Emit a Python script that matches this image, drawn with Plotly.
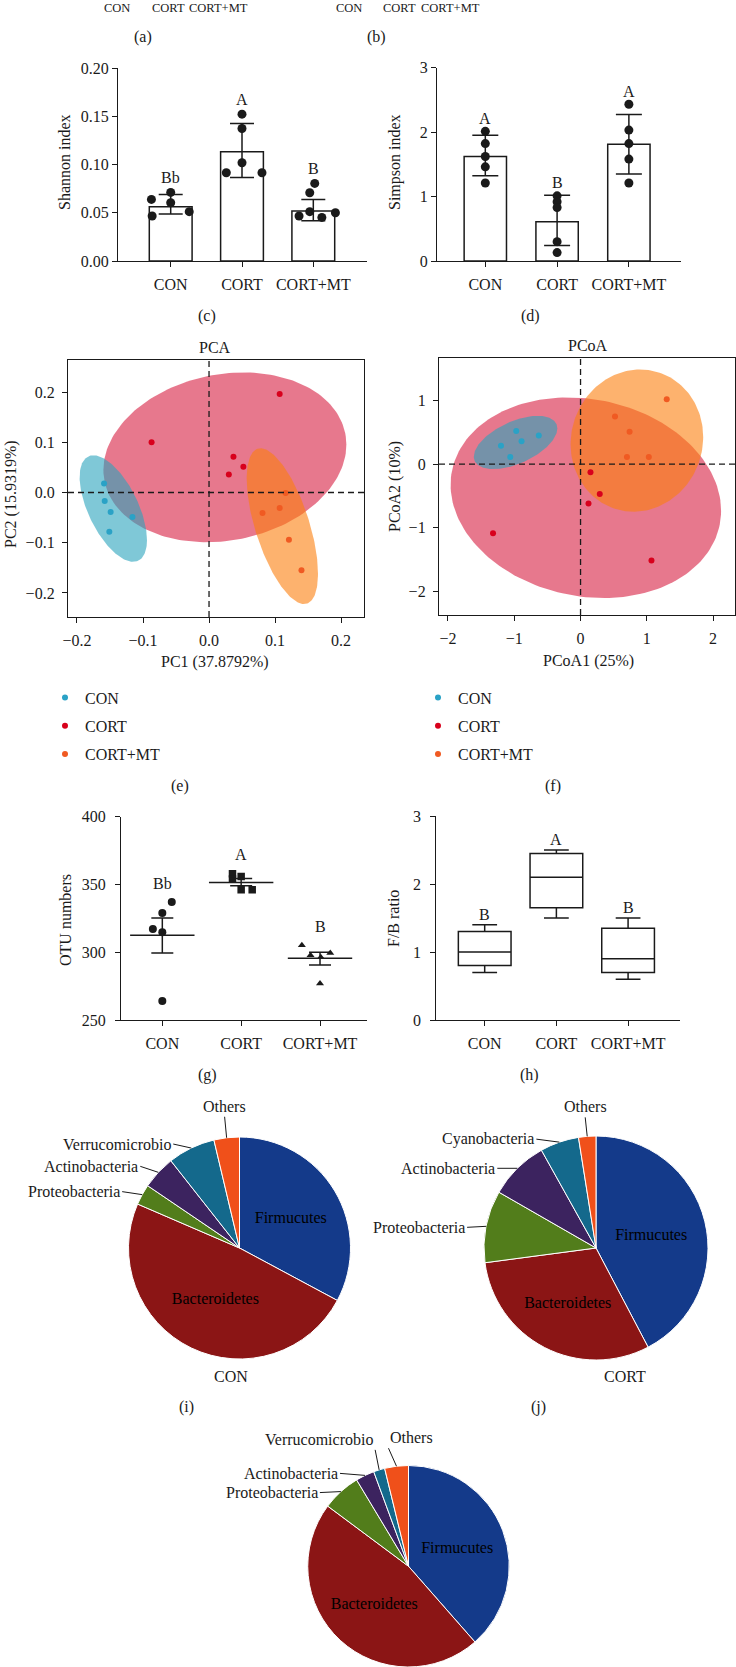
import numpy as np
import plotly.graph_objects as go

W, H = 736, 1667
FONT = "Liberation Serif"
INK = "#1a1a1a"

groups = ["CON", "CORT", "CORT+MT"]
pos = [0, 1, 2]

# (c) Shannon index: bar = mean, whiskers = SD, dots = single animals
shannon_mean = [0.0562, 0.1131, 0.0518]
shannon_hi = [0.0690, 0.1425, 0.0638]
shannon_lo = [0.0487, 0.0866, 0.0417]
shannon_pts = [
    [0.0638, 0.0711, 0.0604, 0.0466, 0.0511],
    [0.1522, 0.1373, 0.1018, 0.0914, 0.0914],
    [0.0804, 0.0707, 0.0511, 0.0466, 0.0452, 0.0500],
]
shannon_jit = [
    [-0.27, 0.0, 0.0, -0.26, 0.26],
    [0.0, 0.0, 0.0, -0.22, 0.28],
    [0.02, -0.05, -0.05, -0.20, 0.12, 0.31],
]
shannon_sig = ["Bb", "A", "B"]

# (d) Simpson index
simpson_mean = [1.62, 0.61, 1.81]
simpson_hi = [1.95, 1.02, 2.27]
simpson_lo = [1.32, 0.24, 1.35]
simpson_pts = [
    [2.01, 1.82, 1.62, 1.46, 1.21],
    [1.01, 0.92, 0.83, 0.30, 0.13],
    [2.43, 2.03, 1.82, 1.58, 1.21],
]
simpson_sig = ["A", "B", "A"]

# (e) PCA scores
pca_x = [
    [-0.159, -0.158, -0.149, -0.116, -0.151],
    [-0.087, 0.107, 0.037, 0.052, 0.030],
    [0.116, 0.107, 0.081, 0.121, 0.140],
]
pca_y = [
    [0.018, -0.017, -0.039, -0.049, -0.078],
    [0.100, 0.196, 0.071, 0.051, 0.036],
    [-0.001, -0.031, -0.041, -0.094, -0.155],
]
# group ellipses: centre, half extent in x and y, correlation
pca_ell_cx = [-0.145, 0.024, 0.111]
pca_ell_cy = [-0.032, 0.070, -0.067]
pca_ell_sx = [0.051, 0.184, 0.054]
pca_ell_sy = [0.106, 0.169, 0.155]
pca_ell_r = [-0.59, 0.15, -0.61]

# (f) PCoA scores
pcoa_x = [
    [-0.97, -0.63, -0.89, -1.20, -1.06],
    [-1.32, 1.07, 0.15, 0.29, 0.12],
    [1.30, 0.52, 0.74, 0.70, 1.03],
]
pcoa_y = [
    [0.52, 0.45, 0.36, 0.29, 0.11],
    [-1.09, -1.52, -0.13, -0.47, -0.62],
    [1.02, 0.75, 0.51, 0.11, 0.11],
]
pcoa_ell_cx = [-0.98, 0.08, 0.85]
pcoa_ell_cy = [0.34, -0.53, 0.37]
pcoa_ell_sx = [0.63, 2.04, 1.00]
pcoa_ell_sy = [0.42, 1.58, 1.12]
pcoa_ell_r = [0.53, -0.13, 0.05]

# (g) OTU numbers: line = mean, whiskers = SEM
otu_pts = [
    [337.0, 329.0, 317.2, 314.7, 264.0],
    [357.9, 355.9, 354.0, 346.1, 346.1],
    [305.2, 297.8, 296.3, 299.5, 277.0],
]
otu_jit = [
    [0.12, 0.0, -0.12, 0.0, 0.0],
    [-0.11, 0.0, -0.11, 0.0, 0.14],
    [-0.23, -0.12, 0.01, 0.13, 0.0],
]
otu_mean = [312.5, 351.5, 295.6]
otu_hi = [325.3, 354.4, 300.0]
otu_lo = [299.5, 349.0, 290.5]
otu_sig = ["Bb", "A", "B"]

# (h) F/B ratio box plot
fb_upper = [1.40, 2.50, 1.50]
fb_q3 = [1.30, 2.45, 1.35]
fb_median = [1.00, 2.10, 0.90]
fb_q1 = [0.80, 1.65, 0.70]
fb_lower = [0.70, 1.50, 0.60]
fb_sig = ["B", "A", "B"]

# (i)-(k) phylum composition (%)
phyla_con = ["Firmucutes", "Bacteroidetes", "Proteobacteria", "Actinobacteria", "Verrucomicrobio", "Others"]
share_con = [32.8, 48.6, 3.0, 4.9, 6.9, 3.7]
phyla_cort = ["Firmucutes", "Bacteroidetes", "Proteobacteria", "Actinobacteria", "Cyanobacteria", "Others"]
share_cort = [42.3, 30.6, 10.4, 8.6, 5.6, 2.5]
phyla_mt = ["Firmucutes", "Bacteroidetes", "Proteobacteria", "Actinobacteria", "Verrucomicrobio", "Others"]
share_mt = [38.5, 46.6, 6.2, 3.0, 1.8, 3.8]

dot_colors = ["#2aa2c6", "#d8001c", "#f05a22"]
ell_colors = ["rgba(42,163,188,0.6)", "rgba(215,30,65,0.6)", "rgba(252,127,13,0.6)"]
pie_colors = ["#143a8a", "#8b1515", "#527d1b", "#3c235f", "#14698c", "#f0501a"]


def xdom(a, b):
    return [a / W, b / W]


def ydom(top, bottom):
    return [max(0, 1 - bottom / H), 1 - top / H]


def xp(v):
    return v / W


def yp(v):
    return 1 - v / H


fig = go.Figure()
ann = []
shapes = []


def text(t, x, y, size=16, **kw):
    d = dict(text=t, x=xp(x), y=yp(y), xref="paper", yref="paper", showarrow=False,
             xanchor="center", yanchor="middle", font=dict(family=FONT, size=size, color=INK))
    d.update(kw)
    ann.append(d)


# ---------- bar + dot panels (c), (d)
def bar_panel(mean, hi, lo, pts, jit, sig, xa, ya, bw, cap, shift):
    fig.add_trace(go.Bar(
        x=pos, y=mean, width=bw, xaxis=xa, yaxis=ya, showlegend=False,
        marker=dict(color="white", line=dict(color=INK, width=1.5)),
        error_y=dict(type="data", symmetric=False,
                     array=[h - m for h, m in zip(hi, mean)],
                     arrayminus=[m - l for m, l in zip(mean, lo)],
                     color=INK, thickness=1.5, width=cap),
    ))
    px_, py_ = [], []
    for i, vals in enumerate(pts):
        for j, v in enumerate(vals):
            px_.append(i + (jit[i][j] if jit else 0.0))
            py_.append(v)
    fig.add_trace(go.Scatter(x=px_, y=py_, mode="markers", xaxis=xa, yaxis=ya, showlegend=False,
                             marker=dict(size=9, color=INK)))
    for i, s in enumerate(sig):
        ann.append(dict(text=s, x=i, y=max(hi[i], max(pts[i])), xref=xa, yref=ya, yshift=shift,
                        yanchor="middle", showarrow=False, font=dict(family=FONT, size=16, color=INK)))


bar_panel(shannon_mean, shannon_hi, shannon_lo, shannon_pts, shannon_jit, shannon_sig, "x", "y", 0.6, 12, 15)
bar_panel(simpson_mean, simpson_hi, simpson_lo, simpson_pts, None, simpson_sig, "x2", "y2", 0.59, 13, 13)


# ---------- ordination panels (e), (f)
def ellipse(cx, cy, sx, sy, rho, color, xa, ya):
    t = np.linspace(0, 2 * np.pi, 181)
    ex = cx + sx * np.cos(t)
    ey = cy + sy * (rho * np.cos(t) + np.sqrt(1 - rho ** 2) * np.sin(t))
    fig.add_trace(go.Scatter(x=ex, y=ey, mode="lines", fill="toself", fillcolor=color,
                             line=dict(width=0, color=color), hoverinfo="skip",
                             showlegend=False, xaxis=xa, yaxis=ya))


def ordination(xs, ys, cx, cy, sx, sy, rr, xa, ya, leg):
    for k in [1, 0, 2]:
        ellipse(cx[k], cy[k], sx[k], sy[k], rr[k], ell_colors[k], xa, ya)
    for k, g in enumerate(groups):
        fig.add_trace(go.Scatter(x=xs[k], y=ys[k], mode="markers", name=g, legend=leg,
                                 legendgroup=leg + g, xaxis=xa, yaxis=ya,
                                 marker=dict(size=6, color=dot_colors[k])))
    dash = dict(color=INK, width=1.3, dash="6px,4px")
    shapes.append(dict(type="line", xref=xa, yref=ya + " domain", x0=0, x1=0, y0=0, y1=1, line=dash))
    shapes.append(dict(type="line", xref=xa + " domain", yref=ya, x0=0, x1=1, y0=0, y1=0, line=dash))


ordination(pca_x, pca_y, pca_ell_cx, pca_ell_cy, pca_ell_sx, pca_ell_sy, pca_ell_r, "x3", "y3", "legend")
ordination(pcoa_x, pcoa_y, pcoa_ell_cx, pcoa_ell_cy, pcoa_ell_sx, pcoa_ell_sy, pcoa_ell_r, "x4", "y4", "legend2")

# ---------- (g) OTU dot plot
symbols = ["circle", "square", "triangle-up"]
sizes = [8, 7.5, 7]
for k in range(3):
    fig.add_trace(go.Scatter(x=[k + d for d in otu_jit[k]], y=otu_pts[k], mode="markers",
                             xaxis="x5", yaxis="y5", showlegend=False,
                             marker=dict(symbol=symbols[k], size=sizes[k], color=INK)))
fig.add_trace(go.Scatter(
    x=pos, y=otu_mean, mode="markers", xaxis="x5", yaxis="y5", showlegend=False,
    marker=dict(symbol="line-ew", size=46, line=dict(color=INK, width=1.5)),
    error_y=dict(type="data", symmetric=False,
                 array=[h - m for h, m in zip(otu_hi, otu_mean)],
                 arrayminus=[m - l for m, l in zip(otu_mean, otu_lo)],
                 color=INK, thickness=1.5, width=11),
))
for i, s in enumerate(otu_sig):
    ann.append(dict(text=s, x=i, y=max(otu_pts[i]), xref="x5", yref="y5", yshift=19, yanchor="middle",
                    showarrow=False, font=dict(family=FONT, size=16, color=INK)))

# ---------- (h) F/B box plot
fig.add_trace(go.Box(x=pos, q1=fb_q1, median=fb_median, q3=fb_q3, lowerfence=fb_lower,
                     upperfence=fb_upper, width=0.735, whiskerwidth=0.47, fillcolor="white",
                     line=dict(color=INK, width=1.5), boxpoints=False, xaxis="x6", yaxis="y6",
                     showlegend=False))
for i, s in enumerate(fb_sig):
    ann.append(dict(text=s, x=i, y=fb_upper[i], xref="x6", yref="y6", yshift=10.5, yanchor="middle",
                    showarrow=False, font=dict(family=FONT, size=16, color=INK)))


# ---------- pies (i), (j), (k)
def pie(labels, values, cx, cy, r, leads):
    top, bot = cy - r, min(cy + r, H)
    dom_x = xdom(cx - r, cx + r)
    dom_y = ydom(top, bot)
    fig.add_trace(go.Pie(
        labels=labels, values=values, sort=False, direction="clockwise", rotation=0,
        marker=dict(colors=pie_colors, line=dict(color="white", width=1)),
        text=[l if k < 2 else "" for k, l in enumerate(labels)], textinfo="text",
        textposition="inside", insidetextorientation="horizontal",
        textfont=dict(family=FONT, size=16, color="black"),
        domain=dict(x=dom_x, y=dom_y), showlegend=False, hoverinfo="label+percent",
    ))
    # geometry as plotly will draw it
    rr = min(2 * r, bot - top) / 2
    ccy = (top + bot) / 2
    tot = sum(values)
    acc = 0.0
    for lab, v in zip(labels, values):
        mid = (acc + v / 2) / tot * 2 * np.pi
        acc += v
        if lab not in leads:
            continue
        ax, ay, xa, yanc = leads[lab]
        ann.append(dict(text=lab, x=xp(cx + rr * np.sin(mid)), y=yp(ccy - rr * np.cos(mid)),
                        xref="paper", yref="paper", showarrow=True, arrowhead=0, arrowwidth=1,
                        arrowcolor=INK, standoff=0, ax=ax, ay=ay, xanchor=xa, yanchor=yanc,
                        font=dict(family=FONT, size=16, color=INK)))


lead_con = {"Proteobacteria": (-20, -3, "right", "middle"),
            "Actinobacteria": (-18, -6, "right", "middle"),
            "Verrucomicrobio": (-18, -4, "right", "middle"),
            "Others": (-2, -21, "center", "bottom")}
lead_cort = {"Proteobacteria": (-19, 1, "right", "middle"),
             "Actinobacteria": (-20, 0, "right", "middle"),
             "Cyanobacteria": (-23, -3, "right", "middle"),
             "Others": (-2, -19, "center", "bottom")}
lead_mt = {"Proteobacteria": (-21, 1, "right", "middle"),
           "Actinobacteria": (-25, -2, "right", "middle"),
           "Verrucomicrobio": (-4, -20, "right", "bottom"),
           "Others": (-8, -18, "left", "bottom")}

pie(phyla_con, share_con, 239.5, 1248, 111, lead_con)
pie(phyla_cort, share_cort, 596, 1248, 112, lead_cort)
pie(phyla_mt, share_mt, 408.5, 1575, 109.5, lead_mt)

# ---------- text
for t, x in zip(groups + groups, [117, 168, 218, 349, 399, 450]):
    text(t, x, 7.5, size=12.5)
for t, x, y in [("(a)", 143, 37), ("(b)", 376, 37), ("(c)", 207, 316), ("(d)", 530, 316),
                ("(e)", 180, 786), ("(f)", 553, 786), ("(g)", 207, 1075), ("(h)", 529, 1075),
                ("(i)", 186, 1407), ("(j)", 538, 1407)]:
    text(t, x, y)
text("CON", 231, 1376)
text("CORT", 625, 1376)
text("PCA", 215, 347)
text("PCoA", 588, 345)
text("PC1 (37.8792%)", 215, 662)
text("PCoA1 (25%)", 588, 661)
for t, x, y in [("Shannon index", 65, 162), ("Simpson index", 395, 162), ("PC2 (15.9319%)", 11, 494),
                ("PCoA2 (10%)", 395, 487), ("OTU numbers", 65, 920), ("F/B ratio", 393, 918)]:
    text(t, x, y, textangle=-90)

# ---------- axes
base = dict(showline=True, linecolor=INK, linewidth=1.3, ticks="outside", ticklen=5, tickwidth=1.3,
            tickcolor=INK, showgrid=False, zeroline=False, fixedrange=True, automargin=False,
            tickfont=dict(family=FONT, size=16, color=INK))


def cat_axis(dom, rng, anchor):
    return dict(base, domain=dom, range=rng, type="linear", tickvals=pos, ticktext=groups,
                anchor=anchor, ticklabelstandoff=4)


axes = dict(
    xaxis=cat_axis(xdom(118, 367), [-0.739, 2.753], "y"),
    yaxis=dict(base, domain=ydom(68, 261), range=[0, 0.2], tickvals=[0, 0.05, 0.1, 0.15, 0.2],
               tickformat=".2f", anchor="x"),
    xaxis2=cat_axis(xdom(437, 681), [-0.673, 2.726], "y2"),
    yaxis2=dict(base, domain=ydom(67.5, 261), range=[0, 3], dtick=1, anchor="x2"),
    xaxis3=dict(base, domain=xdom(68, 364), range=[-0.2136, 0.2347], tickvals=[-0.2, -0.1, 0, 0.1, 0.2],
                tickformat=".1f", mirror=True, anchor="y3", ticklabelstandoff=4),
    yaxis3=dict(base, domain=ydom(360, 617), range=[-0.2478, 0.2637], tickvals=[-0.2, -0.1, 0, 0.1, 0.2],
                tickformat=".1f", mirror=True, anchor="x3", ticklabelstandoff=4),
    xaxis4=dict(base, domain=xdom(439, 735), range=[-2.135, 2.33], dtick=1, mirror=True, anchor="y4",
                ticklabelstandoff=4),
    yaxis4=dict(base, domain=ydom(358.3, 615), range=[-2.378, 1.667], tickvals=[-2, -1, 0, 1],
                mirror=True, anchor="x4", ticklabelstandoff=4),
    xaxis5=cat_axis(xdom(121, 367), [-0.524, 2.596], "y5"),
    yaxis5=dict(base, domain=ydom(816.7, 1020), range=[250, 400], dtick=50, anchor="x5",
                ticklabelstandoff=6),
    xaxis6=cat_axis(xdom(436.3, 679.7), [-0.675, 2.72], "y6"),
    yaxis6=dict(base, domain=ydom(816, 1020), range=[0, 3], dtick=1, anchor="x6", ticklabelstandoff=6),
)

leg = dict(xanchor="left", yanchor="top", font=dict(family=FONT, size=16, color=INK),
           tracegroupgap=4.5, bgcolor="rgba(0,0,0,0)", itemclick=False, itemdoubleclick=False)

fig.update_layout(
    width=W, height=H, margin=dict(l=0, r=0, t=0, b=0, autoexpand=False),
    paper_bgcolor="white", plot_bgcolor="white",
    font=dict(family=FONT, size=16, color=INK),
    hovermode=False, annotations=ann, shapes=shapes,
    legend=dict(leg, x=xp(45), y=yp(680.5)),
    legend2=dict(leg, x=xp(418), y=yp(680.5)),
    **axes,
)

fig.write_html("out.html", config={"displayModeBar": False},
               post_script="document.body.style.margin='0';")
